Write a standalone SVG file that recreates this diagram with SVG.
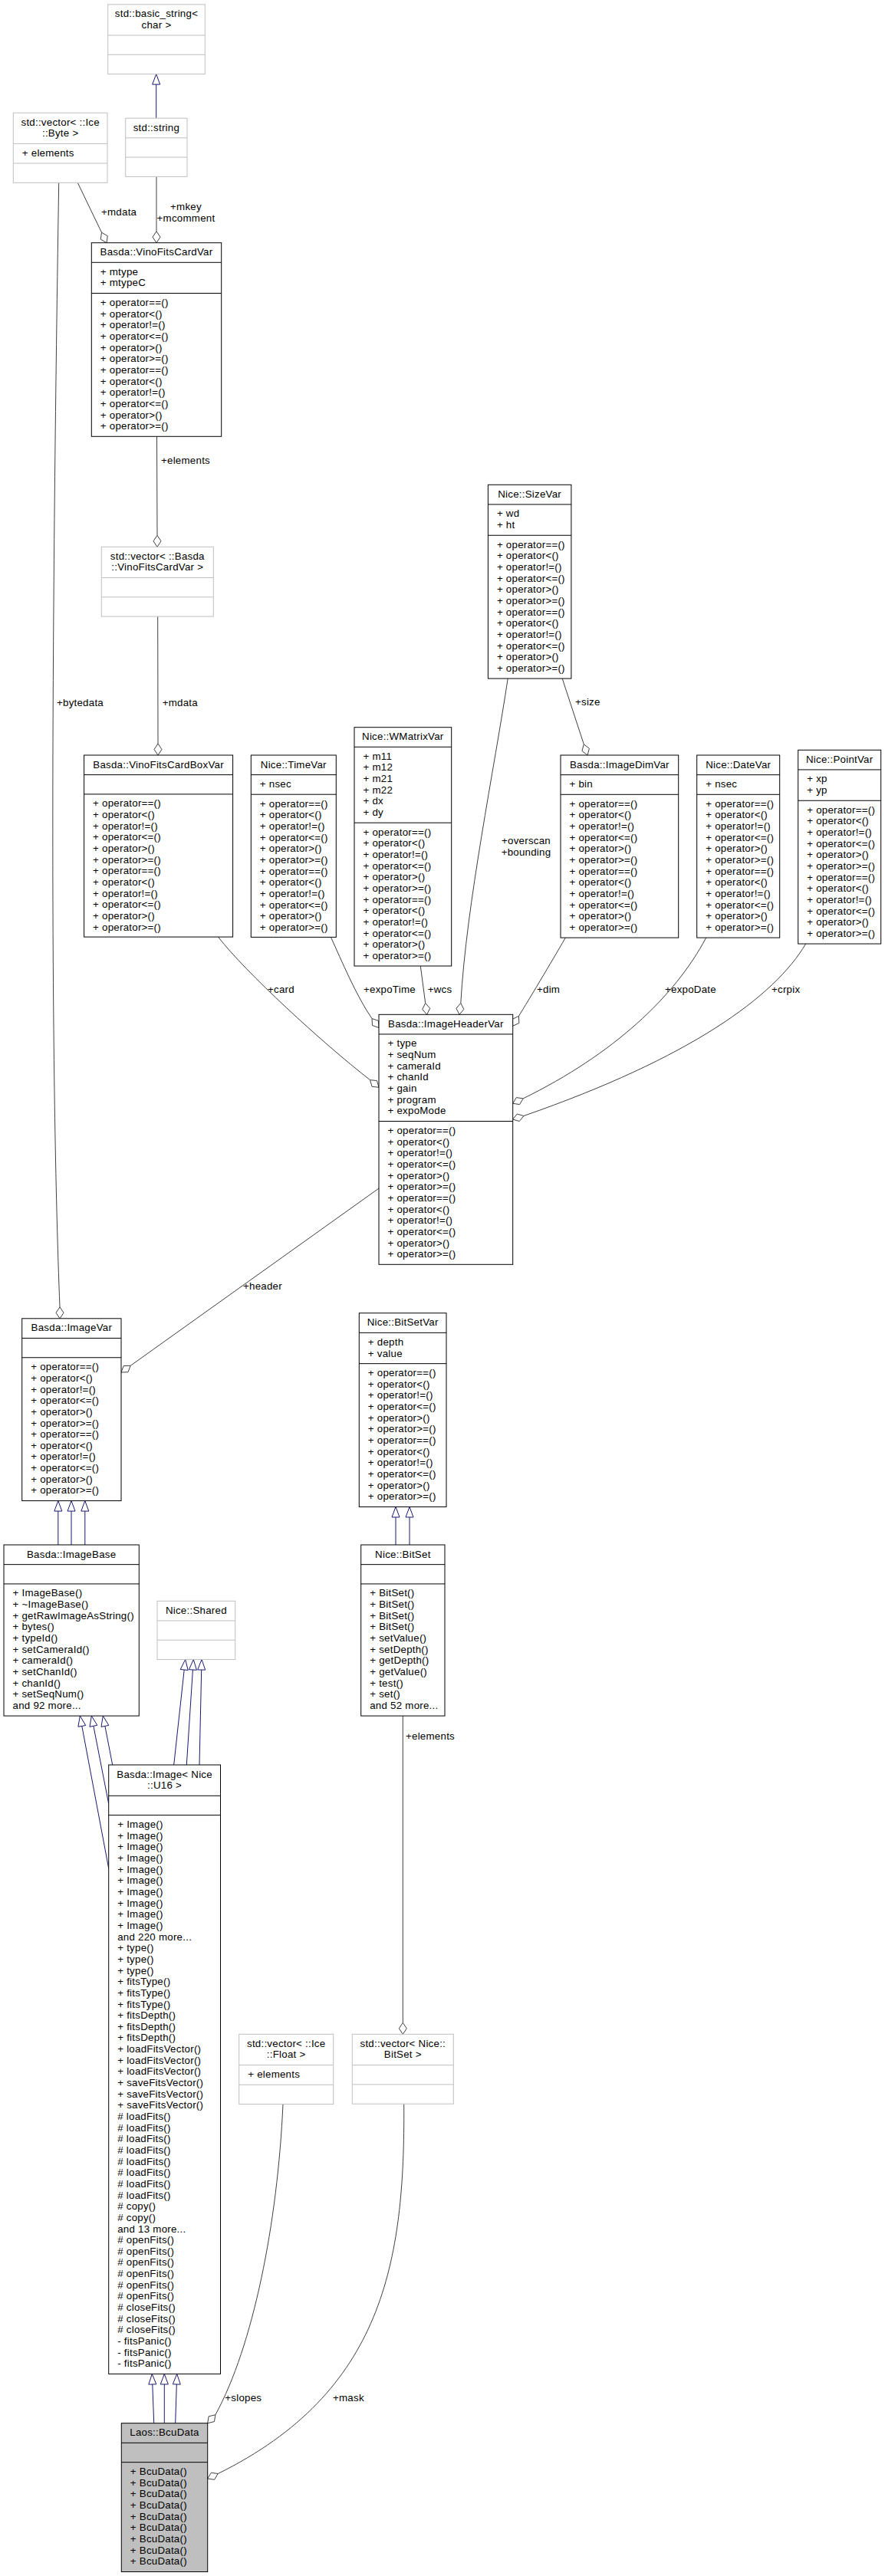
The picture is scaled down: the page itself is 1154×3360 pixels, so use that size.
<svg xmlns="http://www.w3.org/2000/svg" width="1154" height="3360" viewBox="0 0 1154 3360">
<style>
text{font-family:"Liberation Sans",Arial,Helvetica,sans-serif;font-size:13.3px;letter-spacing:0.25px;fill:#000}
.t{text-anchor:middle}
.b{fill:#fff;stroke:#000;stroke-width:1}
.g{fill:#fff;stroke:#bfbfbf;stroke-width:1}
.f{fill:#bfbfbf;stroke:#000;stroke-width:1}
.d{stroke:#000;stroke-width:1}
.dg{stroke:#bfbfbf;stroke-width:1}
.agg{fill:none;stroke:#404040;stroke-width:1}
.dia{fill:#fff;stroke:#404040;stroke-width:1}
.inh{fill:none;stroke:#191970;stroke-width:1}
.tri{fill:#fff;stroke:#191970;stroke-width:1}
</style>
<rect width="1154" height="3360" fill="#fff"/>

<g id="connectors">
<!-- inheritance -->
<line class="inh" x1="203.7" y1="154.2" x2="203.7" y2="110.1"/>
<polygon class="tri" points="203.7,96.6 198.7,110.1 208.7,110.1"/>
<line class="inh" x1="75.8" y1="2015" x2="75.8" y2="1971.05"/>
<line class="inh" x1="93" y1="2015" x2="93" y2="1971.05"/>
<line class="inh" x1="110.8" y1="2015" x2="110.8" y2="1971.05"/>
<polygon class="tri" points="75.8,1957.55 70.8,1971.05 80.8,1971.05"/>
<polygon class="tri" points="93,1957.55 88,1971.05 98,1971.05"/>
<polygon class="tri" points="110.8,1957.55 105.8,1971.05 115.8,1971.05"/>
<line class="inh" x1="106.8" y1="2251.4" x2="141.7" y2="2437"/>
<line class="inh" x1="121.9" y1="2251.3" x2="141.7" y2="2352.7"/>
<line class="inh" x1="136.9" y1="2251.4" x2="146.7" y2="2302"/>
<polygon class="tri" points="104.3,2238.1 111.7,2250.5 101.9,2252.3"/>
<polygon class="tri" points="119.3,2238.1 126.8,2250.3 117,2252.3"/>
<polygon class="tri" points="134.3,2238.1 141.8,2250.4 132,2252.4"/>
<line class="inh" x1="240.2" y1="2178" x2="226.7" y2="2302"/>
<line class="inh" x1="251.4" y1="2178" x2="243.3" y2="2302"/>
<line class="inh" x1="262.7" y1="2178.05" x2="260" y2="2302"/>
<polygon class="tri" points="241.7,2164.55 245.2,2178.5 235.2,2177.5"/>
<polygon class="tri" points="252.3,2164.55 256.4,2178.3 246.4,2177.7"/>
<polygon class="tri" points="263,2164.55 267.7,2178.15 257.7,2177.95"/>
<line class="inh" x1="198.8" y1="3109.95" x2="200.7" y2="3160.7"/>
<line class="inh" x1="214.3" y1="3109.95" x2="214.3" y2="3160.7"/>
<line class="inh" x1="230.3" y1="3109.95" x2="228.7" y2="3160.7"/>
<polygon class="tri" points="198.3,3096.45 203.8,3109.8 193.8,3110.1"/>
<polygon class="tri" points="214.3,3096.45 219.3,3109.95 209.3,3109.95"/>
<polygon class="tri" points="230.7,3096.45 235.3,3110.1 225.3,3109.8"/>
<line class="inh" x1="516" y1="2015" x2="516" y2="1978.95"/>
<line class="inh" x1="534" y1="2015" x2="534" y2="1978.95"/>
<polygon class="tri" points="516,1965.45 511,1978.95 521,1978.95"/>
<polygon class="tri" points="534,1965.45 529,1978.95 539,1978.95"/>

<!-- aggregation -->
<line class="agg" x1="204" y1="230.4" x2="204" y2="301.7"/>
<polygon class="dia" points="204,316.7 199,309.2 204,301.7 209,309.2"/>
<line class="agg" x1="101.3" y1="238.4" x2="132.5" y2="303.2"/>
<polygon class="dia" points="139,316.7 131.25,312.11 132.5,303.2 140.26,307.77"/>
<line class="agg" x1="204.5" y1="569.3" x2="205" y2="698.3"/>
<polygon class="dia" points="205,713.3 200,705.8 205,698.3 210,705.8"/>
<line class="agg" x1="205.7" y1="804.1" x2="206" y2="970"/>
<polygon class="dia" points="206,985 201,977.5 206,970 211,977.5"/>
<path class="agg" d="M76.7,238.4 C66,900 66,1400 78,1704.8"/>
<polygon class="dia" points="78,1719.8 73,1712.3 78,1704.8 83,1712.3"/>
<line class="agg" x1="733.2" y1="885.05" x2="761.3" y2="970.75"/>
<polygon class="dia" points="766,985 758.91,979.43 761.3,970.75 768.41,976.31"/>
<path class="agg" d="M662.2,885 C645,1000 608,1180 600.8,1308.4"/>
<polygon class="dia" points="599,1323.3 594.95,1315.25 600.8,1308.4 604.85,1316.45"/>
<path class="agg" d="M284.5,1222.1 C320,1268 420,1360 482.5,1408.6"/>
<polygon class="dia" points="494,1418.3 485.05,1417.28 482.5,1408.6 491.5,1409.64"/>
<path class="agg" d="M431.4,1222.4 C445,1252 465,1300 485,1328.5"/>
<polygon class="dia" points="494,1340.5 485.5,1337.5 485,1328.5 493.5,1331.5"/>
<line class="agg" x1="548.3" y1="1260" x2="554.7" y2="1308.4"/>
<polygon class="dia" points="556.7,1323.3 550.74,1316.55 554.7,1308.4 560.66,1315.24"/>
<path class="agg" d="M737.3,1223.1 C730,1236 700,1287 676.4,1325.4"/>
<polygon class="dia" points="668.7,1338.3 668.27,1329.3 676.4,1325.4 676.84,1334.44"/>
<path class="agg" d="M920.7,1223.1 C880,1300 800,1375 682.2,1432.85"/>
<polygon class="dia" points="668.7,1439.3 673.3,1431.6 682.2,1432.85 677.6,1440.6"/>
<path class="agg" d="M1050.7,1231 C1010,1300 900,1380 682.95,1455.5"/>
<polygon class="dia" points="668.7,1460 674.3,1453 682.95,1455.5 677.3,1462.5"/>
<line class="agg" x1="494" y1="1550" x2="170.2" y2="1781.3"/>
<polygon class="dia" points="158,1790 161.19,1781.54 170.2,1781.3 167.01,1789.67"/>
<line class="agg" x1="525.3" y1="2238.1" x2="525.3" y2="2638.3"/>
<polygon class="dia" points="525.3,2653.3 520.3,2645.8 525.3,2638.3 530.3,2645.8"/>
<path class="agg" d="M369,2744.55 C362,2900 330,3060 280.9,3149.75"/>
<polygon class="dia" points="270.7,3160.7 272.15,3151.8 280.9,3149.75 279.45,3158.6"/>
<path class="agg" d="M526.7,2744.2 C528,2950 500,3120 284.2,3226.55"/>
<polygon class="dia" points="270.7,3233 275.3,3225.3 284.2,3226.55 279.6,3234.3"/>

<!-- labels -->
<text class="t" x="242.5" y="274">+mkey</text>
<text class="t" x="242.5" y="288.5">+mcomment</text>
<text x="132" y="281">+mdata</text>
<text x="210" y="604.5">+elements</text>
<text x="135" y="920.5" style="text-anchor:end">+bytedata</text>
<text x="211.7" y="920.5">+mdata</text>
<text x="750" y="920.2">+size</text>
<text class="t" x="686" y="1101.2">+overscan</text>
<text class="t" x="686" y="1116.2">+bounding</text>
<text x="349" y="1295">+card</text>
<text x="474" y="1295.2">+expoTime</text>
<text x="557.7" y="1295.2">+wcs</text>
<text x="700" y="1295.2">+dim</text>
<text x="867" y="1295">+expoDate</text>
<text x="1006" y="1295">+crpix</text>
<text x="317" y="1682">+header</text>
<text x="529" y="2269">+elements</text>
<text x="293.3" y="3132">+slopes</text>
<text x="434" y="3132">+mask</text>
</g>

<g id="basic_string">
<rect class="g" x="140.7" y="5.8" width="126.6" height="90.8"/>
<line class="dg" x1="140.7" y1="46" x2="267.3" y2="46"/>
<line class="dg" x1="140.7" y1="71.3" x2="267.3" y2="71.3"/>
<text class="t" x="204" y="22.3">std::basic_string&lt;</text>
<text class="t" x="204" y="36.95">char &gt;</text>
</g>

<g id="std_string">
<rect class="g" x="163.7" y="154.2" width="80.3" height="76.2"/>
<line class="dg" x1="163.7" y1="179.8" x2="244" y2="179.8"/>
<line class="dg" x1="163.7" y1="205.1" x2="244" y2="205.1"/>
<text class="t" x="203.9" y="170.7">std::string</text>
</g>

<g id="vector_byte">
<rect class="g" x="17.3" y="147.2" width="122.7" height="91.1"/>
<line class="dg" x1="17.3" y1="187.4" x2="140" y2="187.4"/>
<line class="dg" x1="17.3" y1="213" x2="140" y2="213"/>
<text class="t" x="78.7" y="163.7">std::vector&lt; ::Ice</text>
<text class="t" x="78.7" y="178.35">::Byte &gt;</text>
<text x="28.8" y="203.9">+ elements</text>
</g>

<g id="VinoFitsCardVar">
<rect class="b" x="119.3" y="316.7" width="169.4" height="252.6"/>
<line class="d" x1="119.3" y1="342.3" x2="288.7" y2="342.3"/>
<line class="d" x1="119.3" y1="382.5" x2="288.7" y2="382.5"/>
<text class="t" x="204" y="333.2">Basda::VinoFitsCardVar</text>
<text x="130.8" y="358.8"><tspan x="130.8">+ mtype</tspan><tspan x="130.8" dy="14.65">+ mtypeC</tspan></text>
<text x="130.8" y="399"><tspan x="130.8">+ operator==()</tspan><tspan x="130.8" dy="14.65">+ operator&lt;()</tspan><tspan x="130.8" dy="14.65">+ operator!=()</tspan><tspan x="130.8" dy="14.65">+ operator&lt;=()</tspan><tspan x="130.8" dy="14.65">+ operator&gt;()</tspan><tspan x="130.8" dy="14.65">+ operator&gt;=()</tspan><tspan x="130.8" dy="14.65">+ operator==()</tspan><tspan x="130.8" dy="14.65">+ operator&lt;()</tspan><tspan x="130.8" dy="14.65">+ operator!=()</tspan><tspan x="130.8" dy="14.65">+ operator&lt;=()</tspan><tspan x="130.8" dy="14.65">+ operator&gt;()</tspan><tspan x="130.8" dy="14.65">+ operator&gt;=()</tspan></text>
</g>

<g id="vector_VinoFitsCardVar">
<rect class="g" x="132.3" y="713.3" width="146" height="90.8"/>
<line class="dg" x1="132.3" y1="753.5" x2="278.3" y2="753.5"/>
<line class="dg" x1="132.3" y1="778.8" x2="278.3" y2="778.8"/>
<text class="t" x="205.3" y="729.8">std::vector&lt; ::Basda</text>
<text class="t" x="205.3" y="744.45">::VinoFitsCardVar &gt;</text>
</g>

<g id="SizeVar">
<rect class="b" x="636.4" y="632.3" width="108.5" height="252.75"/>
<line class="d" x1="636.4" y1="657.95" x2="744.9" y2="657.95"/>
<line class="d" x1="636.4" y1="698.25" x2="744.9" y2="698.25"/>
<text class="t" x="690.65" y="648.8">Nice::SizeVar</text>
<text x="647.9" y="674.45"><tspan x="647.9">+ wd</tspan><tspan x="647.9" dy="14.65">+ ht</tspan></text>
<text x="647.9" y="714.75"><tspan x="647.9">+ operator==()</tspan><tspan x="647.9" dy="14.65">+ operator&lt;()</tspan><tspan x="647.9" dy="14.65">+ operator!=()</tspan><tspan x="647.9" dy="14.65">+ operator&lt;=()</tspan><tspan x="647.9" dy="14.65">+ operator&gt;()</tspan><tspan x="647.9" dy="14.65">+ operator&gt;=()</tspan><tspan x="647.9" dy="14.65">+ operator==()</tspan><tspan x="647.9" dy="14.65">+ operator&lt;()</tspan><tspan x="647.9" dy="14.65">+ operator!=()</tspan><tspan x="647.9" dy="14.65">+ operator&lt;=()</tspan><tspan x="647.9" dy="14.65">+ operator&gt;()</tspan><tspan x="647.9" dy="14.65">+ operator&gt;=()</tspan></text>
</g>

<g id="VinoFitsCardBoxVar">
<rect class="b" x="109.6" y="985" width="194" height="237.1"/>
<line class="d" x1="109.6" y1="1010.6" x2="303.6" y2="1010.6"/>
<line class="d" x1="109.6" y1="1035.9" x2="303.6" y2="1035.9"/>
<text class="t" x="206.6" y="1001.5">Basda::VinoFitsCardBoxVar</text>
<text x="121.1" y="1052.4"><tspan x="121.1">+ operator==()</tspan><tspan x="121.1" dy="14.65">+ operator&lt;()</tspan><tspan x="121.1" dy="14.65">+ operator!=()</tspan><tspan x="121.1" dy="14.65">+ operator&lt;=()</tspan><tspan x="121.1" dy="14.65">+ operator&gt;()</tspan><tspan x="121.1" dy="14.65">+ operator&gt;=()</tspan><tspan x="121.1" dy="14.65">+ operator==()</tspan><tspan x="121.1" dy="14.65">+ operator&lt;()</tspan><tspan x="121.1" dy="14.65">+ operator!=()</tspan><tspan x="121.1" dy="14.65">+ operator&lt;=()</tspan><tspan x="121.1" dy="14.65">+ operator&gt;()</tspan><tspan x="121.1" dy="14.65">+ operator&gt;=()</tspan></text>
</g>

<g id="TimeVar">
<rect class="b" x="327.3" y="985" width="111" height="237.4"/>
<line class="d" x1="327.3" y1="1010.6" x2="438.3" y2="1010.6"/>
<line class="d" x1="327.3" y1="1036.2" x2="438.3" y2="1036.2"/>
<text class="t" x="382.8" y="1001.5">Nice::TimeVar</text>
<text x="338.8" y="1027.1">+ nsec</text>
<text x="338.8" y="1052.7"><tspan x="338.8">+ operator==()</tspan><tspan x="338.8" dy="14.65">+ operator&lt;()</tspan><tspan x="338.8" dy="14.65">+ operator!=()</tspan><tspan x="338.8" dy="14.65">+ operator&lt;=()</tspan><tspan x="338.8" dy="14.65">+ operator&gt;()</tspan><tspan x="338.8" dy="14.65">+ operator&gt;=()</tspan><tspan x="338.8" dy="14.65">+ operator==()</tspan><tspan x="338.8" dy="14.65">+ operator&lt;()</tspan><tspan x="338.8" dy="14.65">+ operator!=()</tspan><tspan x="338.8" dy="14.65">+ operator&lt;=()</tspan><tspan x="338.8" dy="14.65">+ operator&gt;()</tspan><tspan x="338.8" dy="14.65">+ operator&gt;=()</tspan></text>
</g>

<g id="WMatrixVar">
<rect class="b" x="462" y="948.7" width="126.7" height="311.3"/>
<line class="d" x1="462" y1="974.3" x2="588.7" y2="974.3"/>
<line class="d" x1="462" y1="1073.2" x2="588.7" y2="1073.2"/>
<text class="t" x="525.3" y="965.2">Nice::WMatrixVar</text>
<text x="473.5" y="990.8"><tspan x="473.5">+ m11</tspan><tspan x="473.5" dy="14.65">+ m12</tspan><tspan x="473.5" dy="14.65">+ m21</tspan><tspan x="473.5" dy="14.65">+ m22</tspan><tspan x="473.5" dy="14.65">+ dx</tspan><tspan x="473.5" dy="14.65">+ dy</tspan></text>
<text x="473.5" y="1089.7"><tspan x="473.5">+ operator==()</tspan><tspan x="473.5" dy="14.65">+ operator&lt;()</tspan><tspan x="473.5" dy="14.65">+ operator!=()</tspan><tspan x="473.5" dy="14.65">+ operator&lt;=()</tspan><tspan x="473.5" dy="14.65">+ operator&gt;()</tspan><tspan x="473.5" dy="14.65">+ operator&gt;=()</tspan><tspan x="473.5" dy="14.65">+ operator==()</tspan><tspan x="473.5" dy="14.65">+ operator&lt;()</tspan><tspan x="473.5" dy="14.65">+ operator!=()</tspan><tspan x="473.5" dy="14.65">+ operator&lt;=()</tspan><tspan x="473.5" dy="14.65">+ operator&gt;()</tspan><tspan x="473.5" dy="14.65">+ operator&gt;=()</tspan></text>
</g>

<g id="ImageDimVar">
<rect class="b" x="731" y="985" width="153.7" height="238.1"/>
<line class="d" x1="731" y1="1010.65" x2="884.7" y2="1010.65"/>
<line class="d" x1="731" y1="1036.3" x2="884.7" y2="1036.3"/>
<text class="t" x="807.85" y="1001.5">Basda::ImageDimVar</text>
<text x="742.5" y="1027.15">+ bin</text>
<text x="742.5" y="1052.8"><tspan x="742.5">+ operator==()</tspan><tspan x="742.5" dy="14.65">+ operator&lt;()</tspan><tspan x="742.5" dy="14.65">+ operator!=()</tspan><tspan x="742.5" dy="14.65">+ operator&lt;=()</tspan><tspan x="742.5" dy="14.65">+ operator&gt;()</tspan><tspan x="742.5" dy="14.65">+ operator&gt;=()</tspan><tspan x="742.5" dy="14.65">+ operator==()</tspan><tspan x="742.5" dy="14.65">+ operator&lt;()</tspan><tspan x="742.5" dy="14.65">+ operator!=()</tspan><tspan x="742.5" dy="14.65">+ operator&lt;=()</tspan><tspan x="742.5" dy="14.65">+ operator&gt;()</tspan><tspan x="742.5" dy="14.65">+ operator&gt;=()</tspan></text>
</g>

<g id="DateVar">
<rect class="b" x="908.7" y="985" width="108" height="238.1"/>
<line class="d" x1="908.7" y1="1010.65" x2="1016.7" y2="1010.65"/>
<line class="d" x1="908.7" y1="1036.3" x2="1016.7" y2="1036.3"/>
<text class="t" x="962.7" y="1001.5">Nice::DateVar</text>
<text x="920.2" y="1027.15">+ nsec</text>
<text x="920.2" y="1052.8"><tspan x="920.2">+ operator==()</tspan><tspan x="920.2" dy="14.65">+ operator&lt;()</tspan><tspan x="920.2" dy="14.65">+ operator!=()</tspan><tspan x="920.2" dy="14.65">+ operator&lt;=()</tspan><tspan x="920.2" dy="14.65">+ operator&gt;()</tspan><tspan x="920.2" dy="14.65">+ operator&gt;=()</tspan><tspan x="920.2" dy="14.65">+ operator==()</tspan><tspan x="920.2" dy="14.65">+ operator&lt;()</tspan><tspan x="920.2" dy="14.65">+ operator!=()</tspan><tspan x="920.2" dy="14.65">+ operator&lt;=()</tspan><tspan x="920.2" dy="14.65">+ operator&gt;()</tspan><tspan x="920.2" dy="14.65">+ operator&gt;=()</tspan></text>
</g>

<g id="PointVar">
<rect class="b" x="1040.7" y="978.3" width="108" height="252.75"/>
<line class="d" x1="1040.7" y1="1003.95" x2="1148.7" y2="1003.95"/>
<line class="d" x1="1040.7" y1="1044.25" x2="1148.7" y2="1044.25"/>
<text class="t" x="1094.7" y="994.8">Nice::PointVar</text>
<text x="1052.2" y="1020.45"><tspan x="1052.2">+ xp</tspan><tspan x="1052.2" dy="14.65">+ yp</tspan></text>
<text x="1052.2" y="1060.75"><tspan x="1052.2">+ operator==()</tspan><tspan x="1052.2" dy="14.65">+ operator&lt;()</tspan><tspan x="1052.2" dy="14.65">+ operator!=()</tspan><tspan x="1052.2" dy="14.65">+ operator&lt;=()</tspan><tspan x="1052.2" dy="14.65">+ operator&gt;()</tspan><tspan x="1052.2" dy="14.65">+ operator&gt;=()</tspan><tspan x="1052.2" dy="14.65">+ operator==()</tspan><tspan x="1052.2" dy="14.65">+ operator&lt;()</tspan><tspan x="1052.2" dy="14.65">+ operator!=()</tspan><tspan x="1052.2" dy="14.65">+ operator&lt;=()</tspan><tspan x="1052.2" dy="14.65">+ operator&gt;()</tspan><tspan x="1052.2" dy="14.65">+ operator&gt;=()</tspan></text>
</g>

<g id="ImageHeaderVar">
<rect class="b" x="494" y="1323.3" width="174.7" height="326"/>
<line class="d" x1="494" y1="1348.95" x2="668.7" y2="1348.95"/>
<line class="d" x1="494" y1="1462.5" x2="668.7" y2="1462.5"/>
<text class="t" x="581.35" y="1339.8">Basda::ImageHeaderVar</text>
<text x="505.5" y="1365.45"><tspan x="505.5">+ type</tspan><tspan x="505.5" dy="14.65">+ seqNum</tspan><tspan x="505.5" dy="14.65">+ cameraId</tspan><tspan x="505.5" dy="14.65">+ chanId</tspan><tspan x="505.5" dy="14.65">+ gain</tspan><tspan x="505.5" dy="14.65">+ program</tspan><tspan x="505.5" dy="14.65">+ expoMode</tspan></text>
<text x="505.5" y="1479"><tspan x="505.5">+ operator==()</tspan><tspan x="505.5" dy="14.65">+ operator&lt;()</tspan><tspan x="505.5" dy="14.65">+ operator!=()</tspan><tspan x="505.5" dy="14.65">+ operator&lt;=()</tspan><tspan x="505.5" dy="14.65">+ operator&gt;()</tspan><tspan x="505.5" dy="14.65">+ operator&gt;=()</tspan><tspan x="505.5" dy="14.65">+ operator==()</tspan><tspan x="505.5" dy="14.65">+ operator&lt;()</tspan><tspan x="505.5" dy="14.65">+ operator!=()</tspan><tspan x="505.5" dy="14.65">+ operator&lt;=()</tspan><tspan x="505.5" dy="14.65">+ operator&gt;()</tspan><tspan x="505.5" dy="14.65">+ operator&gt;=()</tspan></text>
</g>

<g id="ImageVar">
<rect class="b" x="28.7" y="1719.8" width="129.3" height="237.75"/>
<line class="d" x1="28.7" y1="1745.45" x2="158" y2="1745.45"/>
<line class="d" x1="28.7" y1="1770.75" x2="158" y2="1770.75"/>
<text class="t" x="93.35" y="1736.3">Basda::ImageVar</text>
<text x="40.2" y="1787.25"><tspan x="40.2">+ operator==()</tspan><tspan x="40.2" dy="14.65">+ operator&lt;()</tspan><tspan x="40.2" dy="14.65">+ operator!=()</tspan><tspan x="40.2" dy="14.65">+ operator&lt;=()</tspan><tspan x="40.2" dy="14.65">+ operator&gt;()</tspan><tspan x="40.2" dy="14.65">+ operator&gt;=()</tspan><tspan x="40.2" dy="14.65">+ operator==()</tspan><tspan x="40.2" dy="14.65">+ operator&lt;()</tspan><tspan x="40.2" dy="14.65">+ operator!=()</tspan><tspan x="40.2" dy="14.65">+ operator&lt;=()</tspan><tspan x="40.2" dy="14.65">+ operator&gt;()</tspan><tspan x="40.2" dy="14.65">+ operator&gt;=()</tspan></text>
</g>

<g id="BitSetVar">
<rect class="b" x="468.3" y="1712.7" width="113.7" height="252.75"/>
<line class="d" x1="468.3" y1="1738.35" x2="582" y2="1738.35"/>
<line class="d" x1="468.3" y1="1778.65" x2="582" y2="1778.65"/>
<text class="t" x="525.15" y="1729.2">Nice::BitSetVar</text>
<text x="479.8" y="1754.85"><tspan x="479.8">+ depth</tspan><tspan x="479.8" dy="14.65">+ value</tspan></text>
<text x="479.8" y="1795.15"><tspan x="479.8">+ operator==()</tspan><tspan x="479.8" dy="14.65">+ operator&lt;()</tspan><tspan x="479.8" dy="14.65">+ operator!=()</tspan><tspan x="479.8" dy="14.65">+ operator&lt;=()</tspan><tspan x="479.8" dy="14.65">+ operator&gt;()</tspan><tspan x="479.8" dy="14.65">+ operator&gt;=()</tspan><tspan x="479.8" dy="14.65">+ operator==()</tspan><tspan x="479.8" dy="14.65">+ operator&lt;()</tspan><tspan x="479.8" dy="14.65">+ operator!=()</tspan><tspan x="479.8" dy="14.65">+ operator&lt;=()</tspan><tspan x="479.8" dy="14.65">+ operator&gt;()</tspan><tspan x="479.8" dy="14.65">+ operator&gt;=()</tspan></text>
</g>

<g id="ImageBase">
<rect class="b" x="5" y="2015" width="176.3" height="223.1"/>
<line class="d" x1="5" y1="2040.65" x2="181.3" y2="2040.65"/>
<line class="d" x1="5" y1="2065.95" x2="181.3" y2="2065.95"/>
<text class="t" x="93.15" y="2031.5">Basda::ImageBase</text>
<text x="16.5" y="2082.45"><tspan x="16.5">+ ImageBase()</tspan><tspan x="16.5" dy="14.65">+ ~ImageBase()</tspan><tspan x="16.5" dy="14.65">+ getRawImageAsString()</tspan><tspan x="16.5" dy="14.65">+ bytes()</tspan><tspan x="16.5" dy="14.65">+ typeId()</tspan><tspan x="16.5" dy="14.65">+ setCameraId()</tspan><tspan x="16.5" dy="14.65">+ cameraId()</tspan><tspan x="16.5" dy="14.65">+ setChanId()</tspan><tspan x="16.5" dy="14.65">+ chanId()</tspan><tspan x="16.5" dy="14.65">+ setSeqNum()</tspan><tspan x="16.5" dy="14.65">and 92 more...</tspan></text>
</g>

<g id="Shared">
<rect class="g" x="205" y="2088.3" width="101.7" height="76.25"/>
<line class="dg" x1="205" y1="2113.95" x2="306.7" y2="2113.95"/>
<line class="dg" x1="205" y1="2139.25" x2="306.7" y2="2139.25"/>
<text class="t" x="255.85" y="2104.8">Nice::Shared</text>
</g>

<g id="BitSet">
<rect class="b" x="470.7" y="2015" width="109.3" height="223.1"/>
<line class="d" x1="470.7" y1="2040.65" x2="580" y2="2040.65"/>
<line class="d" x1="470.7" y1="2065.95" x2="580" y2="2065.95"/>
<text class="t" x="525.35" y="2031.5">Nice::BitSet</text>
<text x="482.2" y="2082.45"><tspan x="482.2">+ BitSet()</tspan><tspan x="482.2" dy="14.65">+ BitSet()</tspan><tspan x="482.2" dy="14.65">+ BitSet()</tspan><tspan x="482.2" dy="14.65">+ BitSet()</tspan><tspan x="482.2" dy="14.65">+ setValue()</tspan><tspan x="482.2" dy="14.65">+ setDepth()</tspan><tspan x="482.2" dy="14.65">+ getDepth()</tspan><tspan x="482.2" dy="14.65">+ getValue()</tspan><tspan x="482.2" dy="14.65">+ test()</tspan><tspan x="482.2" dy="14.65">+ set()</tspan><tspan x="482.2" dy="14.65">and 52 more...</tspan></text>
</g>

<g id="Image_U16">
<rect class="b" x="141.7" y="2302" width="145.8" height="794.45"/>
<line class="d" x1="141.7" y1="2342.3" x2="287.5" y2="2342.3"/>
<line class="d" x1="141.7" y1="2367.6" x2="287.5" y2="2367.6"/>
<text class="t" x="214.6" y="2318.5">Basda::Image&lt; Nice</text>
<text class="t" x="214.6" y="2333.15">::U16 &gt;</text>
<text x="153.2" y="2384.1"><tspan x="153.2">+ Image()</tspan><tspan x="153.2" dy="14.65">+ Image()</tspan><tspan x="153.2" dy="14.65">+ Image()</tspan><tspan x="153.2" dy="14.65">+ Image()</tspan><tspan x="153.2" dy="14.65">+ Image()</tspan><tspan x="153.2" dy="14.65">+ Image()</tspan><tspan x="153.2" dy="14.65">+ Image()</tspan><tspan x="153.2" dy="14.65">+ Image()</tspan><tspan x="153.2" dy="14.65">+ Image()</tspan><tspan x="153.2" dy="14.65">+ Image()</tspan><tspan x="153.2" dy="14.65">and 220 more...</tspan><tspan x="153.2" dy="14.65">+ type()</tspan><tspan x="153.2" dy="14.65">+ type()</tspan><tspan x="153.2" dy="14.65">+ type()</tspan><tspan x="153.2" dy="14.65">+ fitsType()</tspan><tspan x="153.2" dy="14.65">+ fitsType()</tspan><tspan x="153.2" dy="14.65">+ fitsType()</tspan><tspan x="153.2" dy="14.65">+ fitsDepth()</tspan><tspan x="153.2" dy="14.65">+ fitsDepth()</tspan><tspan x="153.2" dy="14.65">+ fitsDepth()</tspan><tspan x="153.2" dy="14.65">+ loadFitsVector()</tspan><tspan x="153.2" dy="14.65">+ loadFitsVector()</tspan><tspan x="153.2" dy="14.65">+ loadFitsVector()</tspan><tspan x="153.2" dy="14.65">+ saveFitsVector()</tspan><tspan x="153.2" dy="14.65">+ saveFitsVector()</tspan><tspan x="153.2" dy="14.65">+ saveFitsVector()</tspan><tspan x="153.2" dy="14.65"># loadFits()</tspan><tspan x="153.2" dy="14.65"># loadFits()</tspan><tspan x="153.2" dy="14.65"># loadFits()</tspan><tspan x="153.2" dy="14.65"># loadFits()</tspan><tspan x="153.2" dy="14.65"># loadFits()</tspan><tspan x="153.2" dy="14.65"># loadFits()</tspan><tspan x="153.2" dy="14.65"># loadFits()</tspan><tspan x="153.2" dy="14.65"># loadFits()</tspan><tspan x="153.2" dy="14.65"># copy()</tspan><tspan x="153.2" dy="14.65"># copy()</tspan><tspan x="153.2" dy="14.65">and 13 more...</tspan><tspan x="153.2" dy="14.65"># openFits()</tspan><tspan x="153.2" dy="14.65"># openFits()</tspan><tspan x="153.2" dy="14.65"># openFits()</tspan><tspan x="153.2" dy="14.65"># openFits()</tspan><tspan x="153.2" dy="14.65"># openFits()</tspan><tspan x="153.2" dy="14.65"># openFits()</tspan><tspan x="153.2" dy="14.65"># closeFits()</tspan><tspan x="153.2" dy="14.65"># closeFits()</tspan><tspan x="153.2" dy="14.65"># closeFits()</tspan><tspan x="153.2" dy="14.65">- fitsPanic()</tspan><tspan x="153.2" dy="14.65">- fitsPanic()</tspan><tspan x="153.2" dy="14.65">- fitsPanic()</tspan></text>
</g>

<g id="vector_Float">
<rect class="g" x="311.7" y="2653.3" width="123" height="91.25"/>
<line class="dg" x1="311.7" y1="2693.6" x2="434.7" y2="2693.6"/>
<line class="dg" x1="311.7" y1="2719.25" x2="434.7" y2="2719.25"/>
<text class="t" x="373.2" y="2669.8">std::vector&lt; ::Ice</text>
<text class="t" x="373.2" y="2684.45">::Float &gt;</text>
<text x="323.2" y="2710.1">+ elements</text>
</g>

<g id="vector_BitSet">
<rect class="g" x="459.3" y="2653.3" width="132" height="90.9"/>
<line class="dg" x1="459.3" y1="2693.6" x2="591.3" y2="2693.6"/>
<line class="dg" x1="459.3" y1="2718.9" x2="591.3" y2="2718.9"/>
<text class="t" x="525.3" y="2669.8">std::vector&lt; Nice::</text>
<text class="t" x="525.3" y="2684.45">BitSet &gt;</text>
</g>

<g id="BcuData">
<rect class="f" x="158.3" y="3160.7" width="112.4" height="193.8"/>
<line class="d" x1="158.3" y1="3186.35" x2="270.7" y2="3186.35"/>
<line class="d" x1="158.3" y1="3211.65" x2="270.7" y2="3211.65"/>
<text class="t" x="214.5" y="3177.2">Laos::BcuData</text>
<text x="169.8" y="3228.15"><tspan x="169.8">+ BcuData()</tspan><tspan x="169.8" dy="14.65">+ BcuData()</tspan><tspan x="169.8" dy="14.65">+ BcuData()</tspan><tspan x="169.8" dy="14.65">+ BcuData()</tspan><tspan x="169.8" dy="14.65">+ BcuData()</tspan><tspan x="169.8" dy="14.65">+ BcuData()</tspan><tspan x="169.8" dy="14.65">+ BcuData()</tspan><tspan x="169.8" dy="14.65">+ BcuData()</tspan><tspan x="169.8" dy="14.65">+ BcuData()</tspan></text>
</g>
</svg>
